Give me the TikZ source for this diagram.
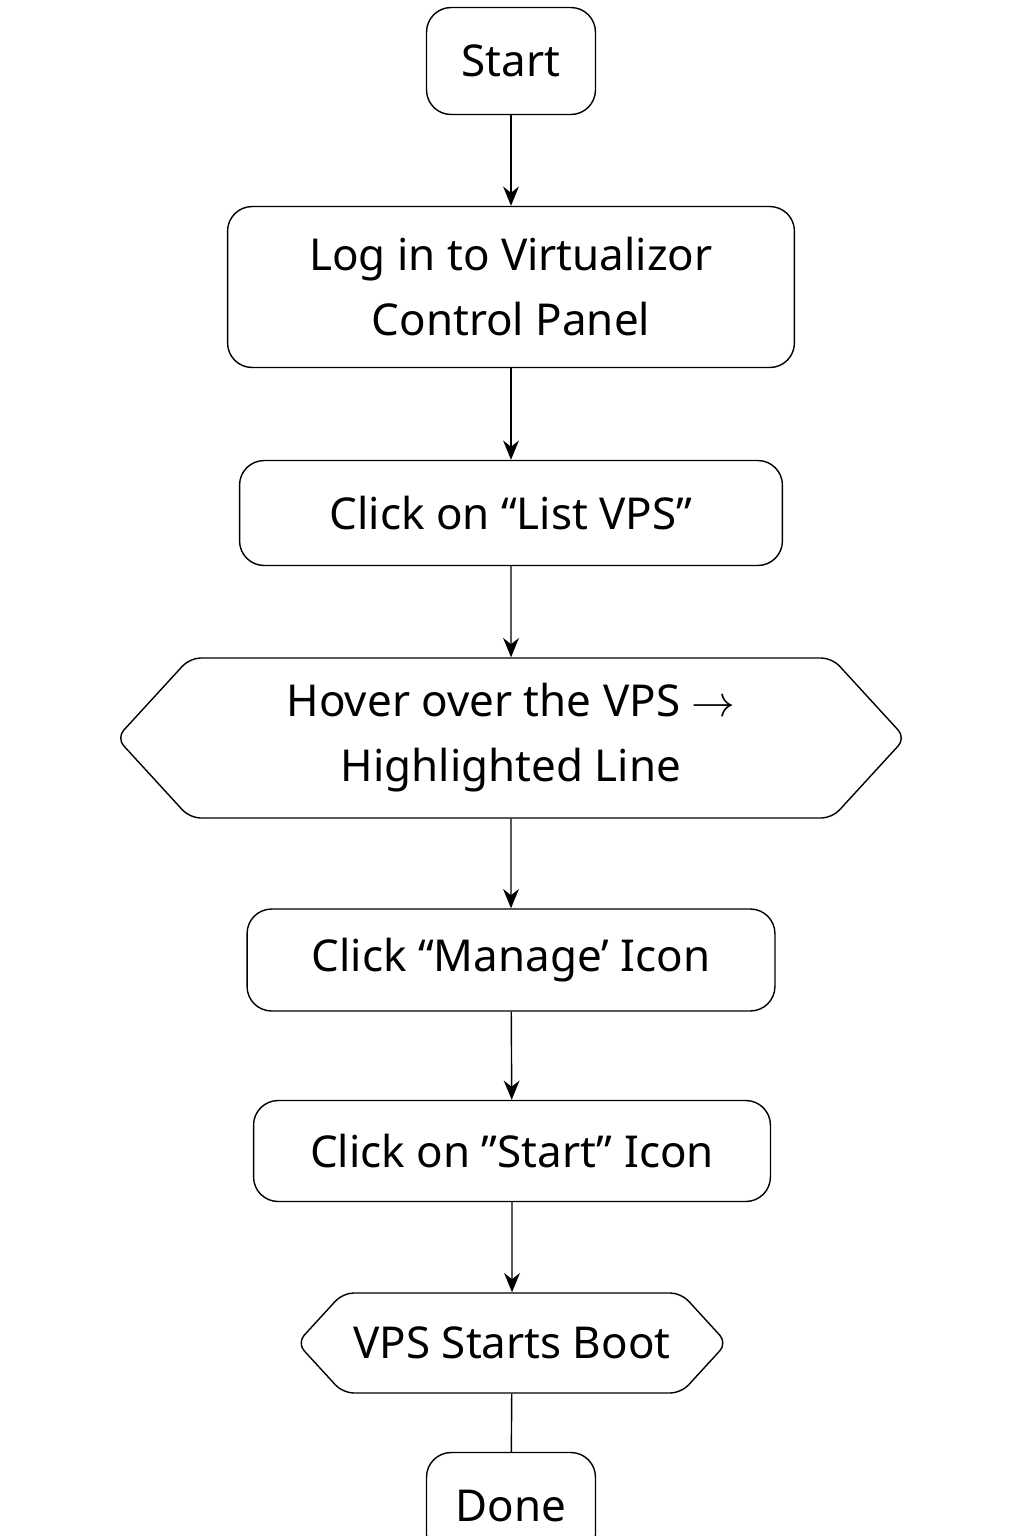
\documentclass[tikz,border=0pt]{standalone}
\usepackage{fontspec}
\setmainfont{Noto Sans}
\usetikzlibrary{shapes.symbols, arrows.meta}
\tikzset{
	box/.style={draw, thick, rounded corners=14pt, align=center, inner sep=0pt},
	hexa/.style={draw, thick, signal, signal to=east and west, signal pointer angle=95,
		rounded corners=6pt, align=center, inner sep=0pt},
	flow/.style={-{Stealth[length=11pt, width=9pt]}, thick},
}
\begin{document}
\begin{tikzpicture}[x=0.02cm, y=-0.02cm, font=\fontsize{25}{37}\selectfont]
	\useasboundingbox (0, 0) rectangle (1024, 1536);

	\node[box, minimum width=3.38cm, minimum height=2.14cm]	(start)	at (511, 61)	{Start};
	\node[box, minimum width=11.34cm, minimum height=3.22cm]	(login)	at (511, 287)	{Log in to Virtualizor\\Control Panel};
	\node[box, minimum width=10.86cm, minimum height=2.1cm]	(list)	at (511, 513)	{Click on “List VPS”};
	\node[hexa, minimum width=15.78cm, minimum height=3.2cm]	(hover)	at (511, 738)	{Hover over the VPS $\rightarrow$\\Highlighted Line};
	\node[box, minimum width=10.56cm, minimum height=2.04cm]	(manage)	at (511, 960)	{Click “Manage’ Icon};
	\node[box, minimum width=10.34cm, minimum height=2.02cm]	(icon)	at (512, 1151)	{Click on ”Start” Icon};
	\node[hexa, minimum width=8.6cm, minimum height=2cm]	(boot)	at (512, 1343)	{VPS Starts Boot};
	\node[box, minimum width=3.38cm, minimum height=2.14cm]	(done)	at (511, 1506)	{Done};

	\draw[flow]	(start) -- (login);
	\draw[flow]	(login) -- (list);
	\draw[flow]	(list) -- (hover);
	\draw[flow]	(hover) -- (manage);
	\draw[flow]	(manage) -- (icon);
	\draw[flow]	(icon) -- (boot);
	\draw[thick]	(boot) -- (done);
\end{tikzpicture}
\end{document}
